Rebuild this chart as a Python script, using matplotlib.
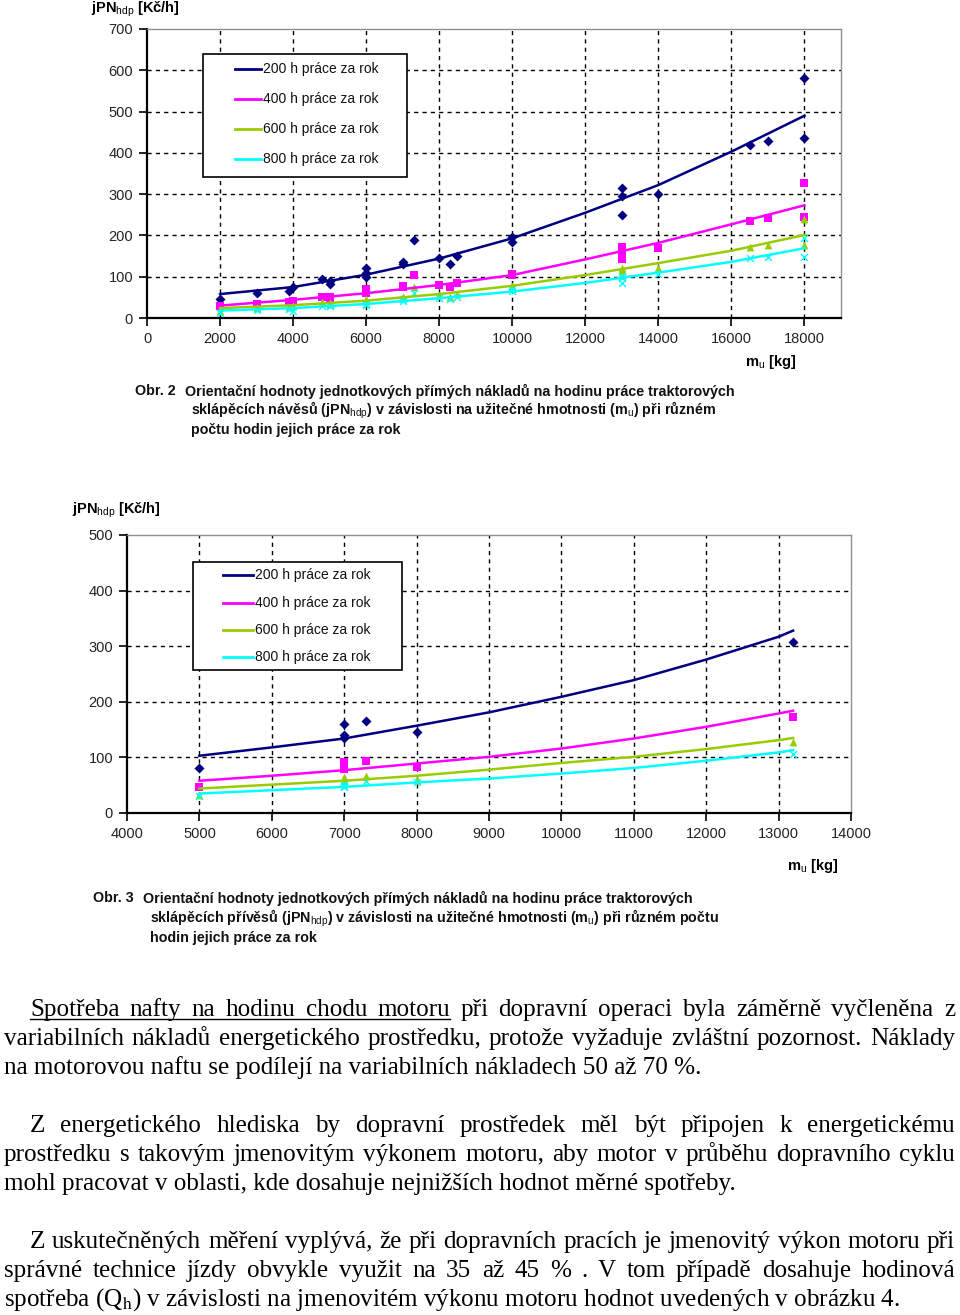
import numpy as np
import matplotlib
matplotlib.use('Agg')
import matplotlib.pyplot as plt
from matplotlib.lines import Line2D
from matplotlib.patches import Rectangle

W, H = 960, 1315

# legend / series
series_names = ['200 h práce za rok', '400 h práce za rok', '600 h práce za rok', '800 h práce za rok']
series_colors = ['#000080', '#FF00FF', '#99CC00', '#00FFFF']
series_markers = ['D', 's', '^', 'x']
series_sizes = [26, 32, 32, 24]

# Obr. 2 - measured points (návěsy)
obr2_x = [2000, 3000, 3900, 4000, 4800, 5000, 5000, 6000, 6000, 6000, 7000, 7000, 7300,
          8000, 8300, 8500, 10000, 10000, 13000, 13000, 13000, 14000, 16500, 17000, 18000, 18000]
obr2_200 = [46, 60, 65, 75, 95, 90, 83, 122, 108, 100, 135, 130, 188,
            145, 130, 150, 195, 185, 315, 295, 250, 300, 420, 428, 582, 436]
obr2_400 = [28, 35, 38, 42, 52, 52, 47, 70, 64, 60, 77, 75, 105,
            80, 75, 85, 106, 104, 172, 163, 142, 169, 236, 242, 328, 245]
obr2_600 = [18, 25, 27, 30, 38, 36, 34, 47, 43, 40, 52, 50, 75,
            55, 50, 58, 78, 76, 122, 117, 103, 122, 173, 177, 239, 178]
obr2_800 = [12, 20, 22, 18, 30, 30, 28, 35, 33, 31, 45, 42, 60,
            48, 45, 50, 70, 66, 102, 98, 85, 106, 145, 147, 194, 147]

# Obr. 2 - trend lines
obr2_trend_x = [2000, 4000, 6000, 8000, 10000, 12000, 14000, 16000, 18000]
obr2_trend_200 = [58, 75, 105, 144, 193, 255, 322, 403, 490]
obr2_trend_400 = [30, 44, 60, 80, 104, 142, 182, 227, 273]
obr2_trend_600 = [24, 31, 42, 58, 78, 104, 133, 163, 201]
obr2_trend_800 = [18, 24, 34, 48, 64, 85, 110, 136, 169]

# Obr. 3 - measured points (přívěsy)
obr3_x = [5000, 7000, 7000, 7000, 7300, 8000, 13200]
obr3_200 = [81, 160, 140, 135, 165, 146, 307]
obr3_400 = [46, 92, 85, 80, 93, 83, 173]
obr3_600 = [32, 64, 60, 57, 66, 60, 128]
obr3_800 = [30, 52, 48, 46, 58, 55, 106]

# Obr. 3 - trend lines
obr3_trend_x = [5000, 6000, 7000, 8000, 9000, 10000, 11000, 12000, 13000, 13200]
obr3_trend_200 = [103, 118, 134, 157, 181, 209, 239, 276, 317, 328]
obr3_trend_400 = [58, 67, 77, 89, 101, 116, 134, 155, 179, 184]
obr3_trend_600 = [44, 51, 58, 67, 78, 90, 101, 115, 131, 135]
obr3_trend_800 = [35, 41, 47, 55, 62, 71, 81, 94, 109, 113]

plt.rcParams['mathtext.fontset'] = 'custom'
plt.rcParams['mathtext.rm'] = 'Liberation Sans'
plt.rcParams['mathtext.it'] = 'Liberation Sans:italic'
plt.rcParams['mathtext.bf'] = 'Liberation Sans:bold'

SANS = ['Liberation Sans', 'DejaVu Sans']
SERIF = ['Liberation Serif', 'DejaVu Serif']

fig = plt.figure(figsize=(W / 100, H / 100), dpi=100)


def fx(x):
    return x / W


def fy(y):
    return 1 - y / H


def legend(box, ys, x0, x1, xt):
    l, t, r, b = box
    fig.add_artist(Rectangle((fx(l), fy(b)), (r - l) / W, (b - t) / H, transform=fig.transFigure,
                             facecolor='white', edgecolor='black', lw=1.2, zorder=10))
    for y, c, name in zip(ys, series_colors, series_names):
        fig.add_artist(Line2D([fx(x0), fx(x1)], [fy(y)] * 2, transform=fig.transFigure,
                              color=c, lw=2, zorder=11))
        fig.text(fx(xt), fy(y), name, fontsize=10, family=SANS, va='center',
                 color='#111111', zorder=11)


def chart(box, xs, ys_list, tx, ty_list, xlim, xticks, ylim, yticks):
    l, t, r, b = box
    ax = fig.add_axes([fx(l), fy(b), (r - l) / W, (b - t) / H])
    for ys, ty, c, m, s in zip(ys_list, ty_list, series_colors, series_markers, series_sizes):
        if m == 'x':
            ax.scatter(xs, ys, marker=m, s=s, color=c, linewidths=1, zorder=3)
        else:
            ax.scatter(xs, ys, marker=m, s=s, color=c, linewidths=0, zorder=3)
        ax.plot(tx, ty, color=c, lw=1.8, zorder=4)
    ax.set_xlim(*xlim)
    ax.set_ylim(*ylim)
    ax.set_xticks(xticks)
    ax.set_yticks(yticks)
    for v in xticks:
        if xlim[0] < v < xlim[1]:
            ax.axvline(v, color='black', lw=1, ls=(0, (3, 3)), zorder=1)
    for v in yticks[1:-1]:
        ax.axhline(v, color='black', lw=1, ls=(0, (3, 3)), zorder=1)
    for s in ['top', 'right']:
        ax.spines[s].set_color('#909090')
        ax.spines[s].set_linewidth(1)
    for s in ['left', 'bottom']:
        ax.spines[s].set_color('black')
        ax.spines[s].set_linewidth(1.6)
    ax.tick_params(direction='out', length=6, width=1.2, labelsize=10.5,
                   labelcolor='#222222', pad=4)
    for lab in ax.get_xticklabels() + ax.get_yticklabels():
        lab.set_family(SANS)
    return ax


chart((147, 29, 841, 318), obr2_x, [obr2_200, obr2_400, obr2_600, obr2_800],
      obr2_trend_x, [obr2_trend_200, obr2_trend_400, obr2_trend_600, obr2_trend_800],
      (0, 19000), list(range(0, 18001, 2000)), (0, 700), list(range(0, 701, 100)))
legend((203, 54, 407, 177), [69, 99, 129, 159], 235, 261, 263)

chart((127, 535, 851, 813), obr3_x, [obr3_200, obr3_400, obr3_600, obr3_800],
      obr3_trend_x, [obr3_trend_200, obr3_trend_400, obr3_trend_600, obr3_trend_800],
      (4000, 14000), list(range(4000, 14001, 1000)), (0, 500), list(range(0, 501, 100)))
legend((193, 562, 402, 670), [575, 603, 630, 657], 223, 253, 255)

# axis titles
ylab = r'jPN$_{\mathrm{hdp}}$ [Kč/h]'
xlab = r'm$_{\mathrm{u}}$ [kg]'
fig.text(fx(91), fy(9), ylab, fontsize=10.5, fontweight='bold', family=SANS, va='center')
fig.text(fx(745), fy(362), xlab, fontsize=10.5, fontweight='bold', family=SANS, va='center')
fig.text(fx(72), fy(510), ylab, fontsize=10.5, fontweight='bold', family=SANS, va='center')
fig.text(fx(787), fy(866), xlab, fontsize=10.5, fontweight='bold', family=SANS, va='center')

# captions
cap = dict(fontsize=10.3, fontweight='bold', family=SANS, va='center', color='#111111')
fig.text(fx(135), fy(391), 'Obr. 2', **cap)
fig.text(fx(185), fy(391), 'Orientační hodnoty jednotkových přímých nákladů na hodinu práce traktorových', **cap)
fig.text(fx(191), fy(410), r'sklápěcích návěsů (jPN$_{\mathrm{hdp}}$) v závislosti na užitečné hmotnosti (m$_{\mathrm{u}}$) při různém', **cap)
fig.text(fx(191), fy(430), 'počtu hodin jejich práce za rok', **cap)

fig.text(fx(93), fy(898), 'Obr. 3', **cap)
fig.text(fx(143), fy(898), 'Orientační hodnoty jednotkových přímých nákladů na hodinu práce traktorových', **cap)
fig.text(fx(150), fy(918), r'sklápěcích přívěsů (jPN$_{\mathrm{hdp}}$) v závislosti na užitečné hmotnosti (m$_{\mathrm{u}}$) při různém počtu', **cap)
fig.text(fx(150), fy(938), 'hodin jejich práce za rok', **cap)

# body text
body = dict(fontsize=18.1, family=SERIF, va='baseline', color='black', math_fontfamily='stix')
renderer = fig.canvas.get_renderer()


def line(s, y, x0=4, x1=None, underline=0):
    if x1 is None:
        fig.text(fx(x0), fy(y), s, **body)
        return
    words = s.split(' ')
    arts = [fig.text(0, fy(y), w, **body) for w in words]
    ws = [a.get_window_extent(renderer).width for a in arts]
    gap = (x1 - x0 - sum(ws)) / (len(words) - 1)
    x = x0
    ends = []
    for a, w in zip(arts, ws):
        a.set_x(fx(x))
        ends.append(x + w)
        x += w + gap
    if underline:
        fig.add_artist(Line2D([fx(x0), fx(ends[underline - 1])], [fy(y + 3)] * 2,
                              transform=fig.transFigure, color='black', lw=1))


R = 955
line('Spotřeba nafty na hodinu chodu motoru při dopravní operaci byla záměrně vyčleněna z',
     1016, 30, R, underline=6)
line('variabilních nákladů energetického prostředku, protože vyžaduje zvláštní pozornost. Náklady',
     1045, 4, R)
line('na motorovou naftu se podílejí na variabilních nákladech 50 až 70 %.', 1074)

line('Z energetického hlediska by dopravní prostředek měl být připojen k energetickému',
     1132, 30, R)
line('prostředku s takovým jmenovitým výkonem motoru, aby motor v průběhu dopravního cyklu',
     1161, 4, R)
line('mohl pracovat v oblasti, kde dosahuje nejnižších hodnot měrné spotřeby.', 1190)

line('Z uskutečněných měření vyplývá, že při dopravních pracích je jmenovitý výkon motoru při',
     1248, 30, R)
line('správné technice jízdy obvykle využit na 35 až 45 % . V tom případě dosahuje hodinová',
     1277, 4, R)
line(r'spotřeba (Q$_{\mathrm{h}}$) v závislosti na jmenovitém výkonu motoru hodnot uvedených v obrázku 4.', 1306)

fig.savefig('out.png', dpi=100)
